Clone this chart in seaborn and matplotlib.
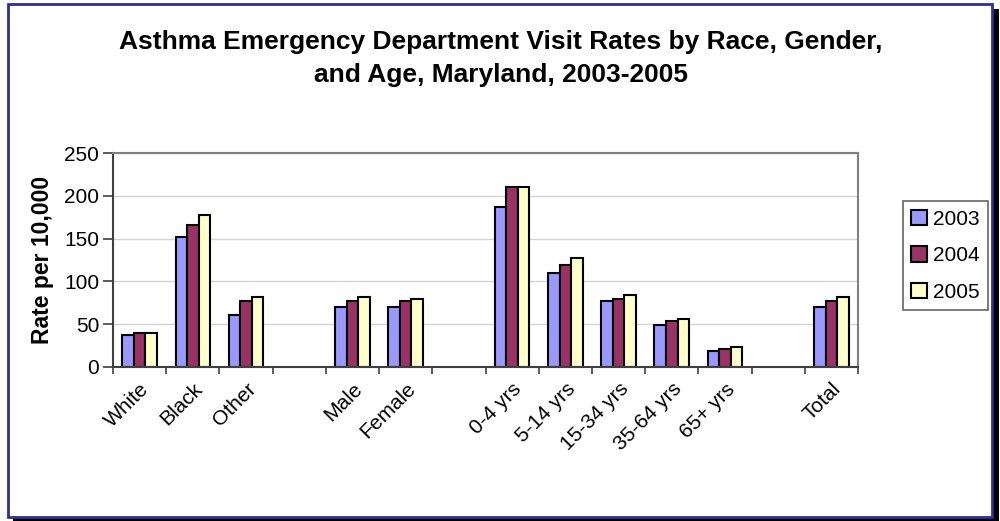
import numpy as np
import pandas as pd
import seaborn as sns
import matplotlib
matplotlib.use("Agg")
import matplotlib.pyplot as plt
from matplotlib.patches import Rectangle
from matplotlib.ticker import FixedLocator, NullFormatter

# Category slots (blank slots separate the race, gender, age and total groups)
categories = ["White", "Black", "Other", " ", "Male", "Female", "  ",
              "0-4 yrs", "5-14 yrs", "15-34 yrs", "35-64 yrs", "65+ yrs", "   ", "Total"]
years = ["2003", "2004", "2005"]
rate_2003 = [37, 152, 61, None, 70, 70, None, 187, 110, 77, 49, 19, None, 70]
rate_2004 = [40, 166, 77, None, 77, 77, None, 210, 119, 79, 54, 21, None, 77]
rate_2005 = [40, 178, 82, None, 82, 79, None, 210, 127, 84, 56, 23, None, 82]
colors = ["#9999FF", "#993366", "#FFFFCC"]

rows = []
for year, vals in zip(years, [rate_2003, rate_2004, rate_2005]):
    for cat, v in zip(categories, vals):
        if v is not None:
            rows.append({"category": cat, "year": year, "rate": v})
df = pd.DataFrame(rows)

sns.set_style("white")
plt.rcParams["font.family"] = ["Liberation Sans", "DejaVu Sans"]
plt.rcParams["text.color"] = "black"
plt.rcParams["axes.labelcolor"] = "black"
plt.rcParams["xtick.color"] = "black"
plt.rcParams["ytick.color"] = "black"

fig = plt.figure(figsize=(10, 5.21), dpi=100)
ax = fig.add_axes([0.113, 0.2956, 0.745, 0.4107])

sns.barplot(data=df, x="category", y="rate", hue="year", order=categories,
            hue_order=years, palette=colors, width=0.65, gap=0,
            edgecolor="black", linewidth=1.5, saturation=1, ax=ax, errorbar=None)

ax.set_xlim(-0.5, len(categories) - 0.5)
ax.set_ylim(0, 250)
ax.set_yticks(np.arange(0, 251, 50))
ax.yaxis.grid(True, color="#D4D4D4", linewidth=1)
ax.set_axisbelow(True)

# Category labels sit at the slot centres; tick marks at the slot boundaries
ax.set_xticks(range(len(categories)))
ax.set_xticklabels([c.strip() for c in categories], rotation=45, ha="right",
                   va="top", rotation_mode="anchor", fontsize=15)
ax.tick_params(axis="x", which="major", length=0, pad=9)
ax.xaxis.set_minor_locator(FixedLocator(np.arange(-0.5, len(categories), 1)))
ax.xaxis.set_minor_formatter(NullFormatter())
ax.tick_params(axis="x", which="minor", length=5, width=1.2, color="#404040",
               direction="out", bottom=True)
ax.tick_params(axis="y", length=7, width=1.2, color="#404040", direction="out",
               left=True, labelsize=15, pad=3)

for side in ["left", "bottom"]:
    ax.spines[side].set_color("#404040")
    ax.spines[side].set_linewidth(1.5)
for side in ["top", "right"]:
    ax.spines[side].set_visible(True)
    ax.spines[side].set_color("#808080")
    ax.spines[side].set_linewidth(1.5)

ax.set_xlabel("")
ax.set_ylabel("Rate per 10,000", fontsize=16.5, fontweight="bold", labelpad=7)

leg = ax.legend(loc="center left", bbox_to_anchor=(1.06, 0.52), frameon=True,
                fontsize=15, handlelength=0.75, handleheight=0.75, handletextpad=0.3,
                labelspacing=0.85, borderpad=0.4, borderaxespad=0, fancybox=False)
leg.get_frame().set_edgecolor("#404040")
leg.get_frame().set_linewidth(1.2)
for h in leg.legend_handles:
    h.set_edgecolor("black")
    h.set_linewidth(1.5)

fig.text(0.501, 0.942,
         "Asthma Emergency Department Visit Rates by Race, Gender,\nand Age, Maryland, 2003-2005",
         ha="center", va="top", fontsize=19, fontweight="bold", linespacing=1.45)

# Chart-area frame with drop shadow
fig.patches.append(Rectangle((13 / 1000, 0), 986 / 1000, 512 / 521,
                             transform=fig.transFigure, facecolor="black",
                             edgecolor="none", zorder=-2))
fig.patches.append(Rectangle((8 / 1000, 4 / 521), 984 / 1000, 513 / 521,
                             transform=fig.transFigure, facecolor="white",
                             edgecolor="#2E2E9A", linewidth=2, zorder=-1))

fig.savefig("out.png", dpi=100)
